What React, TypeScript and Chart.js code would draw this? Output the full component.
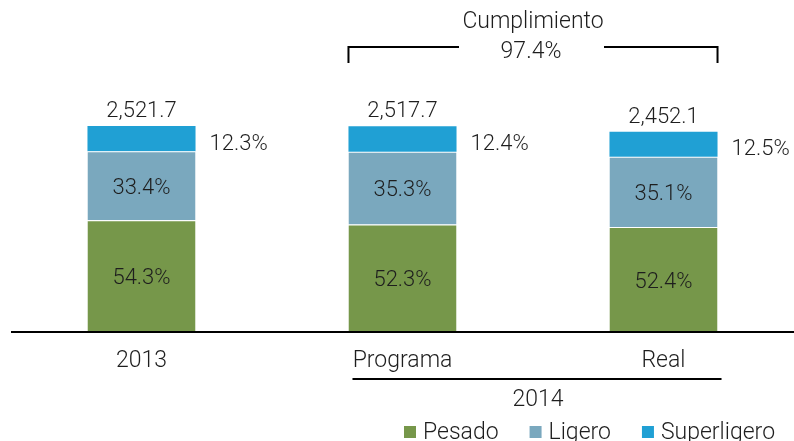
import React, { useEffect, useRef } from "react";
import { Chart, registerables } from "chart.js";

Chart.register(...registerables);

const categories = ["2013", "Programa", "Real"];
const totals = [2521.7, 2517.7, 2452.1];
const pesadoPct = [54.3, 52.3, 52.4];
const ligeroPct = [33.4, 35.3, 35.1];
const superPct = [12.3, 12.4, 12.5];
const seriesNames = ["Pesado", "Ligero", "Superligero"];
const seriesColors = ["#76974a", "#7aa8be", "#20a0d4"];
const groupLabel = "2014";
const bracketTitle = "Cumplimiento";
const bracketValue = "97.4%";

const FONT = "Roboto, 'DejaVu Sans', sans-serif";
const TEXT = "#1e1e1e";

const pesado = totals.map((t, i) => (t * pesadoPct[i]) / 100);
const ligero = totals.map((t, i) => (t * ligeroPct[i]) / 100);
const superl = totals.map((t, i) => (t * superPct[i]) / 100);

const fmt = (v: number) =>
  v.toLocaleString("en-US", { minimumFractionDigits: 1, maximumFractionDigits: 1 });

const overlay = {
  id: "overlay",
  afterDatasetsDraw(chart: any) {
    const ctx = chart.ctx;
    const area = chart.chartArea;
    const m0 = chart.getDatasetMeta(0);
    const m1 = chart.getDatasetMeta(1);
    const m2 = chart.getDatasetMeta(2);
    ctx.save();
    ctx.fillStyle = TEXT;
    ctx.font = `300 22px ${FONT}`;

    // axis line
    ctx.strokeStyle = "#000";
    ctx.lineWidth = 2;
    ctx.beginPath();
    ctx.moveTo(area.left, area.bottom);
    ctx.lineTo(chart.width, area.bottom);
    ctx.stroke();

    for (let i = 0; i < categories.length; i++) {
      const p = m0.data[i] as any;
      const l = m1.data[i] as any;
      const s = m2.data[i] as any;
      const x = p.x;
      const half = p.width / 2;
      ctx.textAlign = "center";
      ctx.textBaseline = "alphabetic";
      ctx.fillText(fmt(totals[i]), x, s.y - 9);
      ctx.fillText(pesadoPct[i].toFixed(1) + "%", x, (p.y + p.base) / 2 + 8);
      ctx.fillText(ligeroPct[i].toFixed(1) + "%", x, (l.y + l.base) / 2 + 8);
      ctx.textAlign = "left";
      ctx.fillText(superPct[i].toFixed(1) + "%", x + half + 14, (s.y + s.base) / 2 + 11);
    }

    ctx.font = `300 23px ${FONT}`;
    for (let i = 0; i < categories.length; i++) {
      const p = m0.data[i] as any;
      ctx.textAlign = "center";
      ctx.fillText(categories[i], p.x, 367);
    }

    // 2014 group
    const pg = m0.data[1] as any;
    const rl = m0.data[2] as any;
    const gLeft = pg.x - pg.width / 2 + 4;
    const gRight = rl.x + rl.width / 2 + 4;
    ctx.beginPath();
    ctx.moveTo(gLeft, 379);
    ctx.lineTo(gRight, 379);
    ctx.stroke();
    ctx.textAlign = "center";
    ctx.fillText(groupLabel, (gLeft + gRight) / 2 + 1, 406);

    // bracket
    const bLeft = pg.x - pg.width / 2;
    const bRight = rl.x + rl.width / 2;
    const bMid = (bLeft + bRight) / 2;
    ctx.beginPath();
    ctx.moveTo(bLeft, 63);
    ctx.lineTo(bLeft, 47);
    ctx.lineTo(bMid - 74, 47);
    ctx.moveTo(bMid + 71, 47);
    ctx.lineTo(bRight, 47);
    ctx.lineTo(bRight, 63);
    ctx.stroke();
    ctx.fillText(bracketTitle, bMid, 28);
    ctx.fillText(bracketValue, bMid - 2, 58);

    // legend
    let lx = 404;
    for (let k = 0; k < seriesNames.length; k++) {
      ctx.fillStyle = seriesColors[k];
      ctx.fillRect(lx, 426, 12, 12);
      ctx.fillStyle = TEXT;
      ctx.textAlign = "left";
      ctx.fillText(seriesNames[k], lx + 19, 439);
      lx += 19 + ctx.measureText(seriesNames[k]).width + 31;
    }
    ctx.restore();
  },
};

export default function App() {
  const ref = useRef<HTMLCanvasElement>(null);
  useEffect(() => {
    document.body.style.margin = "0";
    const common = {
      barPercentage: 0.414,
      categoryPercentage: 1,
      borderColor: "rgba(255,255,255,0.7)",
      borderWidth: { top: 1, bottom: 0, left: 0, right: 0 },
      borderSkipped: false as any,
    };
    const chart = new Chart(ref.current!, {
      type: "bar",
      data: {
        labels: categories,
        datasets: [
          { label: seriesNames[0], data: pesado, backgroundColor: seriesColors[0], ...common },
          { label: seriesNames[1], data: ligero, backgroundColor: seriesColors[1], ...common },
          { label: seriesNames[2], data: superl, backgroundColor: seriesColors[2], ...common, borderWidth: 0 },
        ],
      },
      options: {
        animation: false,
        responsive: false,
        layout: { padding: { left: 11, right: 0, top: 60, bottom: 109 } },
        scales: {
          x: { stacked: true, display: false },
          y: { stacked: true, display: false, min: 0, max: 3330 },
        },
        plugins: { legend: { display: false }, tooltip: { enabled: false } },
      },
      plugins: [overlay],
    });
    return () => chart.destroy();
  }, []);
  return (
    <div style={{ position: "absolute", left: 0, top: 0, width: 794, height: 441, background: "#fff" }}>
      <canvas ref={ref} width={794} height={441} />
    </div>
  );
}
